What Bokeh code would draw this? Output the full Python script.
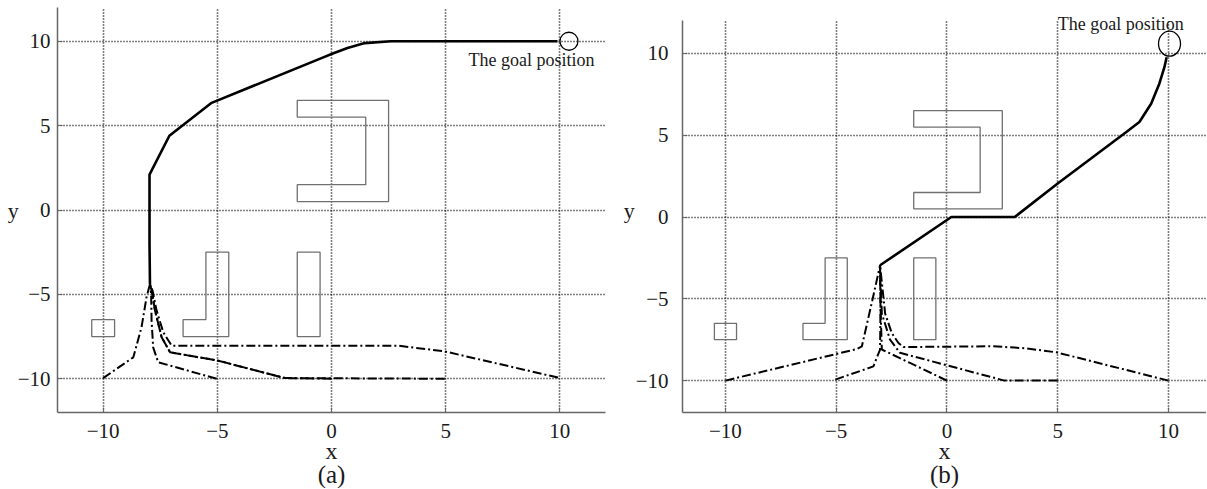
from bokeh.plotting import figure
from bokeh.layouts import row
from bokeh.models import FixedTicker, Label, Title, Range1d
from bokeh.embed import file_html
from bokeh.resources import INLINE

# ---------------- data ----------------
ticks = [-10, -5, 0, 5, 10]
tick_labels = ["\u221210", "\u22125", "0", "5", "10"]

# obstacles (same in both panels)
obs_xs = [
    [-10.5, -9.5, -9.5, -10.5],
    [-5.5, -4.5, -4.5, -6.5, -6.5, -5.5],
    [-1.5, -0.5, -0.5, -1.5],
    [-1.5, 2.5, 2.5, -1.5, -1.5, 1.5, 1.5, -1.5],
]
obs_ys = [
    [-6.5, -6.5, -7.5, -7.5],
    [-2.5, -2.5, -7.5, -7.5, -6.5, -6.5],
    [-2.5, -2.5, -7.5, -7.5],
    [6.5, 6.5, 0.5, 0.5, 1.5, 1.5, 5.5, 5.5],
]

# panel (a)
a_path_x = [-7.95, -7.97, -7.97, -7.1, -5.25, -0.44, 0.0, 0.7, 1.46, 2.6, 9.9]
a_path_y = [-4.4, -2.0, 2.1, 4.4, 6.35, 9.0, 9.24, 9.6, 9.89, 10.0, 10.0]
a1_x = [-10.0, -8.68, -8.32, -8.1, -7.95]
a1_y = [-9.96, -8.73, -6.95, -5.16, -4.4]
a2_x = [-5.03, -7.59, -7.81, -7.88, -7.9, -7.95]
a2_y = [-10.0, -9.02, -8.14, -6.55, -4.96, -4.4]
a3_x = [0.0, -2.04, -4.96, -7.07, -7.44, -7.73, -7.88, -7.95]
a3_y = [-10.0, -9.96, -8.93, -8.43, -7.54, -5.95, -4.76, -4.4]
a4_x = [4.96, -2.04, -4.96, -7.07, -7.44, -7.73, -7.88, -7.95]
a4_y = [-10.0, -9.96, -8.93, -8.43, -7.54, -5.95, -4.76, -4.4]
a5_x = [9.92, 4.96, 2.92, -1.75, -7.0, -7.37, -7.66, -7.84, -7.95]
a5_y = [-9.93, -8.38, -8.04, -8.04, -8.04, -7.24, -5.95, -4.76, -4.4]
a_goal_x = [10.4]
a_goal_y = [10.0]

# panel (b)
b_path_x = [-3.02, 0.2, 3.06, 5.0, 8.1, 8.69, 9.22, 9.59, 9.82, 9.92]
b_path_y = [-2.95, 0.0, 0.0, 2.05, 5.2, 5.81, 6.93, 8.15, 9.16, 9.77]
b1_x = [-10.0, -4.07, -3.84, -3.37, -3.02]
b1_y = [-10.0, -8.07, -7.9, -5.1, -2.95]
b2_x = [-5.04, -3.32, -3.02, -3.0, -3.02]
b2_y = [-9.94, -9.13, -8.1, -5.5, -2.95]
b3_x = [0.0, -1.67, -2.94, -3.0, -3.02]
b3_y = [-10.0, -8.92, -8.1, -5.5, -2.95]
b4_x = [5.0, 2.6, -2.12, -2.57, -2.94, -3.02]
b4_y = [-10.0, -10.0, -8.3, -7.5, -5.9, -2.95]
b5_x = [10.0, 4.94, 3.5, 2.09, -1.97, -2.19, -2.49, -2.79, -3.02]
b5_y = [-10.0, -8.27, -8.02, -7.9, -7.95, -7.7, -7.1, -5.9, -2.95]
b_goal_x = [10.05]
b_goal_y = [10.6]

FONT = "Liberation Serif"


def style(p, tag, label_standoff, ylab_standoff):
    for ax in (p.xaxis[0], p.yaxis[0]):
        ax.ticker = FixedTicker(ticks=ticks)
        ax.major_label_overrides = dict(zip(ticks, tick_labels))
        ax.major_label_text_font = FONT
        ax.major_label_text_font_size = "21px"
        ax.major_label_text_color = "#1a1a1a"
        ax.axis_line_color = "#666666"
        ax.axis_line_width = 1.5
        ax.major_tick_in = 5
        ax.major_tick_out = 0
        ax.major_tick_line_color = "#666666"
        ax.minor_tick_line_color = None
        ax.axis_label_text_font = FONT
        ax.axis_label_text_font_style = "normal"
        ax.axis_label_text_color = "#1a1a1a"
    p.xaxis.axis_label = "x"
    p.xaxis.axis_label_text_font_size = "24px"
    p.yaxis.axis_label = "y"
    p.yaxis.axis_label_text_font_size = "22px"
    p.yaxis.axis_label_orientation = "horizontal"
    p.yaxis.major_label_standoff = label_standoff
    p.yaxis.axis_label_standoff = ylab_standoff
    p.xaxis.major_label_standoff = 11
    p.xaxis.axis_label_standoff = -3
    for g in (p.xgrid[0], p.ygrid[0]):
        g.ticker = FixedTicker(ticks=ticks)
        g.grid_line_color = "black"
        g.grid_line_dash = "1 2"
        g.grid_line_width = 1.6
    p.outline_line_color = None
    p.add_layout(Title(text=tag, align="center", text_font=FONT,
                       text_font_size="25px", text_font_style="normal",
                       text_color="#1a1a1a", standoff=-15), "below")


def draw(p, path_x, path_y, trajs, gx, gy, gw, gh, lab_x, lab_y):
    p.patches(obs_xs, obs_ys, fill_color=None, line_color="#707070", line_width=1.3)
    for tx, ty in trajs:
        p.line(tx, ty, line_color="black", line_width=2.0, line_dash="9 3 2 3")
    p.line(path_x, path_y, line_color="black", line_width=2.6)
    p.ellipse(x=gx, y=gy, width=gw, height=gh, width_units="screen",
              height_units="screen", fill_color=None, line_color="black",
              line_width=1.3)
    p.add_layout(Label(x=lab_x, y=lab_y, text="The goal position",
                       text_font=FONT, text_font_size="18px",
                       text_baseline="middle", text_color="#1a1a1a"))


p1 = figure(width=612, height=488, x_range=Range1d(-12, 12), y_range=Range1d(-12, 12),
            output_backend="svg", toolbar_location=None,
            min_border_left=57, min_border_right=7, min_border_top=7,
            min_border_bottom=76)
style(p1, "(a)", 7, -4)
draw(p1, a_path_x, a_path_y,
     [(a1_x, a1_y), (a2_x, a2_y), (a3_x, a3_y), (a4_x, a4_y), (a5_x, a5_y)],
     a_goal_x, a_goal_y, 18, 18, 6.0, 8.9)

p2 = figure(width=594, height=488, x_range=Range1d(-11.94, 11.72), y_range=Range1d(-11.95, 12.81),
            output_backend="svg", toolbar_location=None,
            min_border_left=70, min_border_right=0, min_border_top=7,
            min_border_bottom=76)
style(p2, "(b)", 14, -2)
p2.yaxis.bounds = (-11.95, 12.0)
p2.xgrid.cross_bounds = (-11.95, 12.0)
draw(p2, b_path_x, b_path_y,
     [(b1_x, b1_y), (b2_x, b2_y), (b3_x, b3_y), (b4_x, b4_y), (b5_x, b5_y)],
     b_goal_x, b_goal_y, 22, 25, 5.0, 11.83)

layout = row(p1, p2)
open("out.html", "w").write(file_html(layout, INLINE))
